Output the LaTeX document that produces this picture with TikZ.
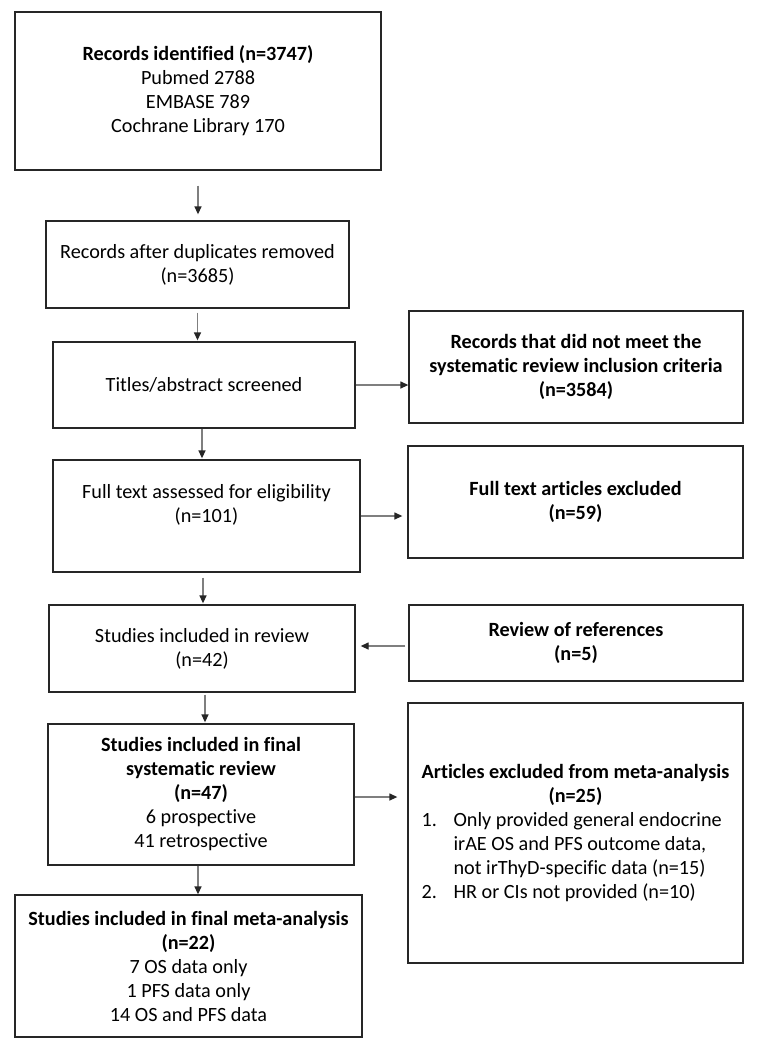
\documentclass[tikz,border=0pt]{standalone}
\usepackage{fontspec}
\setmainfont{Carlito}[Ligatures=NoCommon]
\usetikzlibrary{arrows.meta}
\definecolor{boxc}{HTML}{262626}
\definecolor{linec}{HTML}{7F7F7F}
\begin{document}
\begin{tikzpicture}[x=1pt,y=-1pt,
  box/.style={draw=boxc, line width=1.3pt, rectangle, inner sep=0pt, align=center, font=\fontsize{20.2}{24}\selectfont},
  txt/.style={align=center, inner sep=0pt, font=\fontsize{20.2}{24}\selectfont},
  arr/.style={draw=linec, line width=1.3pt, -{Triangle[length=8pt,width=7pt,color=black!85]}}]
\useasboundingbox[fill=white] (0,0) rectangle (756,1050);

\node[box, minimum width=366pt, minimum height=158pt] (b1) at (198,91)
  {\textbf{Records identified (n=3747)}\\Pubmed 2788\\EMBASE 789\\Cochrane Library 170};
\node[box, minimum width=303pt, minimum height=87pt] (b2) at (197.5,264.5)
  {Records after duplicates removed\\(n=3685)};
\node[box, minimum width=302pt, minimum height=86pt] (b3) at (204,385)
  {Titles/abstract screened};
\node[box, minimum width=307pt, minimum height=112pt] (b4) at (206.5,516) {};
\node[txt] (b4t) at (206.5,504.5) {Full text assessed for eligibility\\(n=101)};
\node[box, minimum width=306pt, minimum height=87pt] (b5) at (202,648.5)
  {Studies included in review\\(n=42)};
\node[box, minimum width=306pt, minimum height=141pt] (b6) at (201,794.5)
  {\textbf{Studies included in final}\\\textbf{systematic review}\\\textbf{(n=47)}\\6 prospective\\41 retrospective};
\node[box, minimum width=347pt, minimum height=142pt] (b7) at (188.5,966)
  {\textbf{Studies included in final meta-analysis}\\\textbf{(n=22)}\\7 OS data only\\1 PFS data only\\14 OS and PFS data};

\node[box, minimum width=334pt, minimum height=112pt] (r1) at (576,367)
  {\textbf{Records that did not meet the}\\\textbf{systematic review inclusion criteria}\\\textbf{(n=3584)}};
\node[box, minimum width=335pt, minimum height=112pt] (r2) at (575.5,502)
  {\textbf{Full text articles excluded}\\\textbf{(n=59)}};
\node[box, minimum width=334pt, minimum height=76pt] (r3) at (576,643)
  {\textbf{Review of references}\\\textbf{(n=5)}};
\node[box, minimum width=335pt, minimum height=260pt] (r4) at (575.5,833) {};
\node[txt] (r4t) at (575.5,834) {\fontsize{20.2}{24}\selectfont
  \begin{tabular}{@{}p{32pt}@{}l@{}}
  \multicolumn{2}{@{}c@{}}{\textbf{Articles excluded from meta-analysis}}\\
  \multicolumn{2}{@{}c@{}}{\textbf{(n=25)}}\\
  1. & Only provided general endocrine\\
     & irAE OS and PFS outcome data,\\
     & not irThyD-specific data (n=15)\\
  2. & HR or CIs not provided (n=10)
  \end{tabular}};

% vertical arrows
\draw[arr, shorten <=15pt, shorten >=6pt] (b1.south) -- (b1.south |- b2.north);
\draw[arr, shorten <=4pt, shorten >=1pt] (b2.south) -- (b2.south |- b3.north);
\draw[arr, shorten >=1pt] ([xshift=-2pt]b3.south) -- ([xshift=-2pt]b3.south |- b4.north);
\draw[arr, shorten <=5pt, shorten >=1pt] ([xshift=-3.5pt]b4.south) -- ([xshift=-3.5pt]b4.south |- b5.north);
\draw[arr, shorten <=2pt, shorten >=1pt] ([xshift=3pt]b5.south) -- ([xshift=3pt]b5.south |- b6.north);
\draw[arr] ([xshift=-3pt]b6.south) -- ([xshift=-3pt]b6.south |- b7.north);

% horizontal arrows
\draw[arr] (b3.east) -- (b3.east -| r1.west);
\draw[arr, shorten >=5pt] (b4.east) -- (b4.east -| r2.west);
\draw[arr, shorten <=3pt, shorten >=5pt] ([yshift=-3pt]r3.west) -- ([yshift=-3pt]r3.west -| b5.east);
\draw[arr, shorten >=10pt] ([yshift=-2.5pt]b6.east) -- ([yshift=-2.5pt]b6.east -| r4.west);
\end{tikzpicture}
\end{document}
